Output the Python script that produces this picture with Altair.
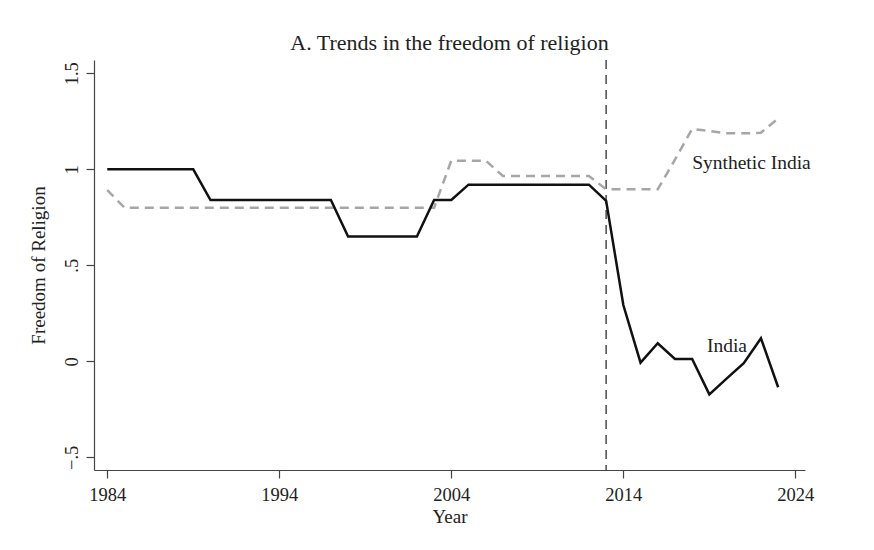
import altair as alt
import pandas as pd

years = list(range(1984, 2024))
india = [1.0, 1.0, 1.0, 1.0, 1.0, 1.0, 0.84, 0.84, 0.84, 0.84,
         0.84, 0.84, 0.84, 0.84, 0.65, 0.65, 0.65, 0.65, 0.65, 0.84,
         0.84, 0.92, 0.92, 0.92, 0.92, 0.92, 0.92, 0.92, 0.92, 0.836,
         0.293, -0.007, 0.094, 0.012, 0.012, -0.172, -0.09, -0.01, 0.12, -0.135]
synthetic = [0.892, 0.80, 0.80, 0.80, 0.80, 0.80, 0.80, 0.80, 0.80, 0.80,
             0.80, 0.80, 0.80, 0.80, 0.80, 0.80, 0.80, 0.80, 0.80, 0.80,
             1.045, 1.045, 1.045, 0.965, 0.965, 0.965, 0.965, 0.965, 0.965, 0.896,
             0.896, 0.896, 0.896, 1.05, 1.21, 1.20, 1.187, 1.187, 1.19, 1.265]
treatment_year = [2013]
label_text = ["Synthetic India", "India"]
label_year = [2018.0, 2018.86]
label_value = [1.033, 0.08]
x_ticks = [1984, 1994, 2004, 2014, 2024]
y_ticks = [-0.5, 0, 0.5, 1, 1.5]

df_india = pd.DataFrame({"Year": years, "value": india})
df_syn = pd.DataFrame({"Year": years, "value": synthetic})
df_vline = pd.DataFrame({"Year": treatment_year})
df_lab = pd.DataFrame({"text": label_text, "Year": label_year, "value": label_value})

FONT = "Liberation Serif"
xscale = alt.Scale(domain=[1983.23, 2024.56], nice=False, zero=False)
yscale = alt.Scale(domain=[-0.566, 1.569], nice=False, zero=False)

xenc = alt.X("Year:Q", scale=xscale,
             axis=alt.Axis(values=x_ticks, format="d", title="Year", grid=False,
                           tickSize=8, labelPadding=7, titlePadding=4))
yenc = alt.Y("value:Q", scale=yscale,
             axis=alt.Axis(values=y_ticks, title="Freedom of Religion", grid=False,
                           tickSize=8, labelAngle=270, labelAlign="center",
                           labelBaseline="bottom", labelPadding=5,
                           labelExpr="replace(format(datum.value, '~g'), '0.', '.')",
                           titlePadding=14))

syn_line = alt.Chart(df_syn).mark_line(color="#a6a6a6", strokeWidth=2.5,
                                       strokeDash=[9, 6]).encode(x=xenc, y=yenc)
india_line = alt.Chart(df_india).mark_line(color="#111111", strokeWidth=2.5).encode(
    x=alt.X("Year:Q", scale=xscale), y=alt.Y("value:Q", scale=yscale))
vline = alt.Chart(df_vline).mark_rule(color="#555555", strokeWidth=1.6,
                                      strokeDash=[9, 6]).encode(
    x=alt.X("Year:Q", scale=xscale))
labels = alt.Chart(df_lab).mark_text(font=FONT, fontSize=19.5, align="left",
                                     baseline="middle", color="#222222").encode(
    x=alt.X("Year:Q", scale=xscale), y=alt.Y("value:Q", scale=yscale), text="text:N")

chart = alt.layer(vline, syn_line, india_line, labels).properties(
    width=711, height=410,
    title=alt.TitleParams("A. Trends in the freedom of religion", font=FONT,
                          fontSize=22, fontWeight="normal", color="#222222",
                          anchor="middle", offset=4),
    autosize=alt.AutoSizeParams(type="none"),
    padding={"left": 86, "top": 52, "right": 60, "bottom": 70},
).configure_view(stroke=None).configure_axis(
    labelFont=FONT, titleFont=FONT, labelFontSize=18.5, titleFontSize=19,
    titleFontWeight="normal", labelColor="#222222", titleColor="#222222",
    domainColor="#444444", tickColor="#444444", domainWidth=1.2, tickWidth=1.2,
)

chart.save("out.html", embed_options={"renderer": "svg", "actions": False})
